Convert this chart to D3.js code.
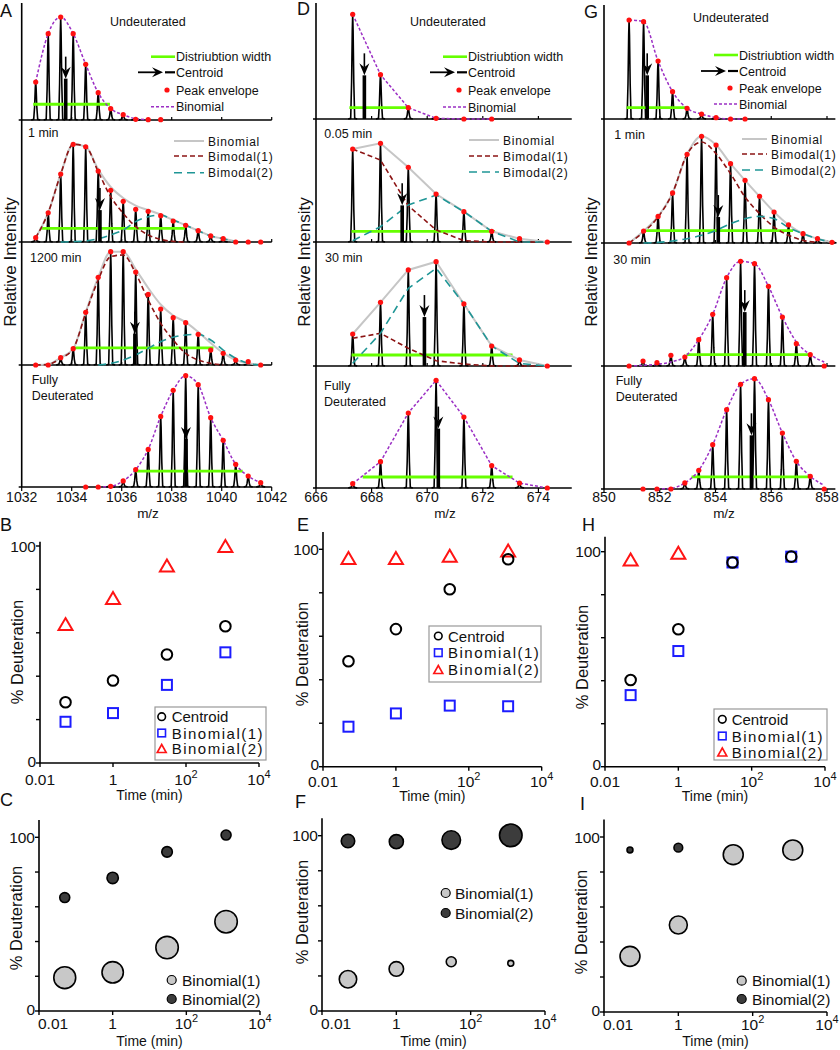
<!DOCTYPE html>
<html><head><meta charset="utf-8">
<script src="https://cdn.jsdelivr.net/npm/d3@7"></script>
<style>
body{margin:0;background:#fff;}
svg{display:block;font-family:"Liberation Sans",Arial,sans-serif;}
</style></head><body>
<svg id="c" width="840" height="1050"></svg>
<script>
// ===================== DATA =====================
// ---- spectra: tick labels ----
const mzTicksA = [1032,1034,1036,1038,1040,1042];
const mzTicksD = [666,668,670,672,674];
const mzTicksG = [850,852,854,856,858];

// ---- spectra texts ----
const labelsA = ["Undeuterated","1 min","1200 min","Fully|Deuterated"];
const labelsD = ["Undeuterated","0.05 min","30 min","Fully|Deuterated"];
const labelsG = ["Undeuterated","1 min","30 min","Fully|Deuterated"];
const legendTopText = ["Distriubtion width","Centroid","Peak envelope","Binomial"];
const legendMidText = ["Binomial","Bimodal(1)","Bimodal(2)"];

// ---- column A (m/z, relative intensity %) ----
const A1_start = 1032.56, A1_step = 0.5;
const A1_peaks = [34.5,78.5,93.6,78.5,50.6,24.8,10.3,4.8,0.6,0.3,0.3];
const A1_binomial = [34.5,78.5,93.6,78.5,50.6,24.8,10.3,4.8,1.2,0.2];
const A1_width = [1032.46,1035.53,14.3];
const A1_centroid = [1033.76,57.6];

const A2_start = 1032.56, A2_step = 0.5;
const A2_peaks = [3.9,26.6,61.8,88.8,86.6,64.5,47,37,29.7,27.9,23.9,19.1,15.2,10.3,5.5,3,0,0,0];
const A2_binomial = [3.9,26.6,61.8,88.8,86.6,66,50,40,33,29,25,20,15.2,10.3,5.5,3,0.5];
const A2_bimodal1 = [3.9,26.7,61.8,88.8,86.7,63.9,41.2,26.1,13.9,6.4,2.4,0.6,0];
const A2_bimodal2 = [null,null,0,0.3,0.9,3,6.4,10.9,18.5,23,24.5,20,15.2,10.3,5.5,3,0];
const A2_width = [1032.73,1038.53,12.4];
const A2_centroid = [1035.13,49];

const A3_start = 1032.56, A3_step = 0.5;
const A3_peaks = [0,0,6.7,14.8,47.9,79.7,103,103,84.5,64.2,50.9,43,38.5,27.9,13.6,10.6,4.5,3,0];
const A3_binomial = [0,0.6,6.7,14.8,47.9,79.7,103,103,87,70,55,45,39,30,20,11,4.5,1.5,0];
const A3_bimodal1 = [0,0.6,6.1,14.8,47,77.3,98.5,100,83.3,59.1,37.9,22.7,10.6,4.5,1.5,0];
const A3_bimodal2 = [null,null,null,null,null,0,1.5,4.5,9.1,15.2,21.2,25.2,27.3,27.9,22.7,13.6,6.1,1.5,0];
const A3_width = [1034.07,1039.67,15.5];
const A3_centroid = [1036.53,48.5];

const A4_start = 1034.56, A4_step = 0.5;
const A4_peaks = [0,0,0.6,5.5,15.8,34.2,64.2,87.9,101.2,93,63,42.4,20.6,10,3.9];
const A4_binomial = [null,0,0.6,5.5,15.8,34.2,64.2,87.9,101.2,93,63,42.4,20.6,10,3.9];
const A4_width = [1036.57,1040.84,14.5];
const A4_centroid = [1038.57,63.7];

// ---- column D ----
const D1_start = 667.32, D1_step = 1;
const D1_peaks = [95.2,40.3,10.3,0.6,0,0];
const D1_binomial = [95.2,40.3,10.3,0.6,0,0];
const D1_width = [667.2,669.31,10.3];
const D1_centroid = [667.74,59.7];

const D2_start = 667.32, D2_step = 1;
const D2_peaks = [84.5,89.7,67.9,43.6,27.6,9.7,3,0];
const D2_binomial = [84.5,89.7,67.9,43.6,27.6,9.7,3,0];
const D2_bimodal1 = [84.5,74.5,33,11,1.2,0,0,0];
const D2_bimodal2 = [1.2,13.9,33.6,42.7,27.6,9.7,0,0];
const D2_width = [667.28,672.44,9.7];
const D2_centroid = [669.1,53.3];

const D3_start = 667.32, D3_step = 1;
const D3_peaks = [29.1,57.9,87.3,94.8,56.4,18.2,5.5,0];
const D3_binomial = [29.1,57.9,87.3,94.8,56.4,18.2,5.5,0];
const D3_bimodal1 = [25.2,29.7,16.1,4.8,1.8,0,0,0];
const D3_bimodal2 = [2.4,29.7,70.6,88.8,56.4,18.2,2.4,0];
const D3_width = [667.28,673.07,10];
const D3_centroid = [669.9,64.5];

const D4_start = 667.32, D4_step = 1;
const D4_peaks = [3.9,23.9,68.2,97.9,64.5,20.3,4.5,0];
const D4_binomial = [3.9,23.9,68.2,97.9,64.5,20.3,4.5,0];
const D4_width = [667.68,673.07,10];
const D4_centroid = [670.4,74];

// ---- column G ----
const G1_start = 850.9, G1_step = 0.52;
const G1_peaks = [90,88.5,52.7,24.8,9.7,4.5,1.2,0,0];
const G1_binomial = [90,88.5,52.7,24.8,9.7,4.5,1.2,0,0];
const G1_width = [850.81,853.0,10.3];
const G1_centroid = [851.55,59.7];

const G2_start = 850.9, G2_step = 0.52;
const G2_peaks = [0,10.9,24.2,45.5,80.6,97,89.1,72.1,57,42.4,28.2,16.5,8.5,3.9,0.6];
const G2_binomial = [0,10.9,24.2,45.5,80.6,97,89.1,72.1,57,42.4,28.2,16.5,8.5,3.9,0.6];
const G2_bimodal1 = [0,10,23.6,45.5,80.6,91.8,81.2,63,41.8,26.7,14.5,7,2.4,0.6];
const G2_bimodal2 = [null,0,0.6,1.8,3.9,7,11.5,17.6,22.1,24.2,22.1,14,8.5,3.9,0.6];
const G2_width = [851.47,856.78,11.2];
const G2_centroid = [854.1,43.6];

const G3_start = 850.9, G3_step = 0.5;
const G3_peaks = [0,4.5,3,9.7,8.2,23.9,47,80.3,95.2,93,72.4,44.5,20.3,10.3,0];
const G3_binomial = [0,0.6,1.5,3.6,8.5,24,47,80.3,95.2,93,72.4,44.5,22,10.3,3.6];
const G3_width = [852.96,857.32,10.3];
const G3_centroid = [855.05,69];

const G4_start = 851.4, G4_step = 0.5;
const G4_peaks = [0,0,0,5.5,17,40.3,72.1,95.2,100.3,81.2,50.9,25.2,11.5,0];
const G4_binomial = [null,0,0.6,5.5,17,40.3,72.1,95.2,100.3,81.2,50.9,25.2,11.5,3.3];
const G4_width = [853.14,857.38,11];
const G4_centroid = [855.29,68.8];

// ---- % deuteration vs time ----
const times = [0.05,1,30,1200];
const timeTicks = [0.01,1,100,10000];
const timeTickLabels = [["0.01",""],["1",""],["10","2"],["10","4"]];
const pctTicks = [0,20,40,60,80,100];
const pctTickLabels = ["0","","","","","100"];
const scatterLegend = ["Centroid","Binomial(1)","Binomial(2)"];
const bubbleLegend = ["Binomial(1)","Binomial(2)"];

const B_centroid = [28,38,50,63];
const B_binomial1 = [19,23,36,51];
const B_binomial2 = [64,76,91,100];

const E_centroid = [48.5,63.3,81.6,95.4];
const E_binomial1 = [18.4,24.5,28.1,27.8];
const E_binomial2 = [96,96,97,99.5];

const H_centroid = [40.3,63.9,95,97.7];
const H_binomial1 = [33.3,53.8,95,97.7];
const H_binomial2 = [96.4,99.5];

const C_binomial1 = [19.2,22.3,36.5,51.4];
const C_binomial2 = [65.3,76.6,91.6,101.3];
const C_pop1 = [82,78,86,86];
const C_pop2 = [17,22,19,17];

const F_binomial1 = [18.1,24,28.1,27.2];
const F_binomial2 = [97,96.6,97.5,100.2];
const F_pop1 = [52,36,17,6];
const F_pop2 = [31,34,59,87];

const I_binomial1 = [31.8,49.7,89.9,92.6];
const I_binomial2 = [92.6,93.9];
const I_pop1 = [68,55,68,68];
const I_pop2 = [6,13];

// ===================== DRAWING =====================
const svg = d3.select("#c");
const ST = {
  purple:{stroke:"#9b2fc4", w:1.5, dash:"3,2"},
  gray:{stroke:"#c6c6c6", w:2, dash:null},
  red:{stroke:"#8c1414", w:1.6, dash:"5,3"},
  teal:{stroke:"#1f9696", w:1.6, dash:"8,5"},
  green:"#66ff00"
};

function text(x,y,s,o={}){
  const t = svg.append("text").attr("x",x).attr("y",y)
    .attr("font-size",o.size||12).attr("fill",o.fill||"#111");
  if(o.anchor) t.attr("text-anchor",o.anchor);
  if(o.ls) t.attr("letter-spacing",o.ls);
  if(o.rot) t.attr("transform",`rotate(-90,${x},${y})`);
  t.text(s);
  return t;
}
function line(x1,y1,x2,y2,stroke,w,dash){
  const l = svg.append("line").attr("x1",x1).attr("y1",y1).attr("x2",x2).attr("y2",y2)
    .attr("stroke",stroke).attr("stroke-width",w);
  if(dash) l.attr("stroke-dasharray",dash);
  return l;
}
function styled(sel, st){
  sel.attr("fill","none").attr("stroke",st.stroke).attr("stroke-width",st.w);
  if(st.dash) sel.attr("stroke-dasharray",st.dash);
  return sel;
}
function arrowDown(xc, yTop, base){
  const tip = yTop + 22;
  line(xc, yTop, xc, tip-8, "#000", 1.6);
  svg.append("path").attr("d",`M${xc},${tip} L${xc-5},${tip-12} L${xc},${tip-8} L${xc+5},${tip-12} Z`).attr("fill","#000");
  line(xc, tip, xc, base, "#000", 3.6);
}

function sub(start, step, peaks, envs, width, cen){
  return {start, step, peaks, envs, width, cen};
}
const colA = {
  domain:[1032,1042], range:[21.7,271.7], xEnd:1042, top:3, bases:[120,242,365,487],
  ticks:mzTicksA, labels:labelsA, curve:d3.curveMonotoneX, mzX:148,
  undeutX:110, undeutY:25.5, timeX:[0,28,30,31.7], timeY:[0,136.5,262,384],
  legTopX:176, legTopY:[56.7,72.3,90,106.7], legMidX:208, legMidY:[141,156,172.7], legMidLen:30,
  relX:16, relY:262,
  subs:[
    sub(A1_start,A1_step,A1_peaks,[[A1_binomial,"purple"]],A1_width,A1_centroid),
    sub(A2_start,A2_step,A2_peaks,[[A2_binomial,"gray"],[A2_bimodal1,"red"],[A2_bimodal2,"teal"]],A2_width,A2_centroid),
    sub(A3_start,A3_step,A3_peaks,[[A3_binomial,"gray"],[A3_bimodal1,"red"],[A3_bimodal2,"teal"]],A3_width,A3_centroid),
    sub(A4_start,A4_step,A4_peaks,[[A4_binomial,"purple"]],A4_width,A4_centroid)
  ]
};
const colD = {
  domain:[666,674], range:[316,538.4], xEnd:675.2, top:3, bases:[119,242,366,488],
  ticks:mzTicksD, labels:labelsD, curve:d3.curveLinear, mzX:445,
  undeutX:410, undeutY:26, timeX:[0,324.3,325,324], timeY:[0,138,262,390],
  legTopX:468, legTopY:[56.7,72.3,90,107], legMidX:503, legMidY:[140,156,172], legMidLen:30,
  relX:310, relY:262,
  subs:[
    sub(D1_start,D1_step,D1_peaks,[[D1_binomial,"purple"]],D1_width,D1_centroid),
    sub(D2_start,D2_step,D2_peaks,[[D2_binomial,"gray"],[D2_bimodal1,"red"],[D2_bimodal2,"teal"]],D2_width,D2_centroid),
    sub(D3_start,D3_step,D3_peaks,[[D3_binomial,"gray"],[D3_bimodal1,"red"],[D3_bimodal2,"teal"]],D3_width,D3_centroid),
    sub(D4_start,D4_step,D4_peaks,[[D4_binomial,"purple"]],D4_width,D4_centroid)
  ]
};
const colG = {
  domain:[850,858], range:[604,827], xEnd:858.3, top:5, bases:[119,243,366,489],
  ticks:mzTicksG, labels:labelsG, curve:d3.curveMonotoneX, mzX:724,
  undeutX:693, undeutY:22, timeX:[0,614.3,613.3,615.7], timeY:[0,139,264,385],
  legTopX:739, legTopY:[55,71,88,104], legMidX:771, legMidY:[139,154,170], legMidLen:25,
  relX:597, relY:262,
  subs:[
    sub(G1_start,G1_step,G1_peaks,[[G1_binomial,"purple"]],G1_width,G1_centroid),
    sub(G2_start,G2_step,G2_peaks,[[G2_binomial,"gray"],[G2_bimodal1,"red"],[G2_bimodal2,"teal"]],G2_width,G2_centroid),
    sub(G3_start,G3_step,G3_peaks,[[G3_binomial,"purple"]],G3_width,G3_centroid),
    sub(G4_start,G4_step,G4_peaks,[[G4_binomial,"purple"]],G4_width,G4_centroid)
  ]
};

function drawSpecColumn(col){
  const xs = d3.scaleLinear().domain(col.domain).range(col.range);
  const ax = xs(col.domain[0]);
  line(ax, col.top, ax, col.bases[3], "#000", 1.6);
  col.subs.forEach((sp,k)=>{
    const base = col.bases[k];
    const ys = d3.scaleLinear().domain([0,100]).range([base, base-110]);
    line(ax-3, base, xs(col.xEnd), base, "#000", 1.6);
    col.ticks.forEach(t=>{ if(t>col.domain[0]) line(xs(t), base, xs(t), base+(k===3?4:-3), "#000", 1.2); });
    const mz = i => sp.start + i*sp.step;
    // peaks
    sp.peaks.forEach((v,i)=>{
      if(v < 0.4) return;
      const x = xs(mz(i)), yt = ys(v);
      const pts = [[x-4.5,base],[x-2,base-0.6],[x-1.1,ys(v*0.35)],[x-0.4,ys(v*0.85)],[x,yt],
                   [x+0.4,ys(v*0.85)],[x+1.1,ys(v*0.35)],[x+2,base-0.6],[x+4.5,base]];
      svg.append("path").attr("d",d3.line()(pts)).attr("fill","none").attr("stroke","#000").attr("stroke-width",1.6);
    });
    // distribution width
    line(xs(sp.width[0]), ys(sp.width[2]), xs(sp.width[1]), ys(sp.width[2]), ST.green, 2.8);
    // envelopes
    sp.envs.forEach(([vals, sty])=>{
      const gen = d3.line().defined(d=>d[1]!=null).curve(col.curve)
        .x(d=>xs(mz(d[0]))).y(d=>ys(d[1]));
      styled(svg.append("path").attr("d",gen(vals.map((v,i)=>[i,v]))), ST[sty]);
    });
    // centroid
    arrowDown(xs(sp.cen[0]), ys(sp.cen[1]), base);
    // peak envelope dots
    sp.peaks.forEach((v,i)=>{
      svg.append("circle").attr("cx",xs(mz(i))).attr("cy",ys(v)).attr("r",2.6).attr("fill","#ff1010");
    });
    // labels
    const lab = col.labels[k];
    if(k===0) text(col.undeutX, col.undeutY, lab, {size:12.5});
    else if(lab.includes("|")){
      const parts = lab.split("|");
      text(col.timeX[k], col.timeY[k], parts[0], {size:12.5});
      text(col.timeX[k], col.timeY[k]+15.5, parts[1], {size:12.5});
    } else text(col.timeX[k], col.timeY[k], lab, {size:12.5});
  });
  // bottom tick labels
  col.ticks.forEach(t=> text(xs(t), 502, String(t), {size:14, anchor:"middle"}));
  line(ax, col.bases[3], ax, col.bases[3]+4, "#000", 1.2);
  text(col.mzX, 518, "m/z", {size:13.5, anchor:"middle"});
  // y label
  text(col.relX, col.relY, "Relative Intensity", {size:17, anchor:"middle", rot:true});
  // top legend
  const tx = col.legTopX, ly = col.legTopY;
  line(tx-25, ly[0], tx-1, ly[0], ST.green, 2.6);
  text(tx, ly[0]+4.5, legendTopText[0], {size:12.5});
  line(tx-38, ly[1], tx-20, ly[1], "#000", 1.8);
  svg.append("path").attr("d",`M${tx-13},${ly[1]} L${tx-24},${ly[1]-5} L${tx-20},${ly[1]} L${tx-24},${ly[1]+5} Z`).attr("fill","#000");
  line(tx-11, ly[1], tx-1, ly[1], "#000", 2.2);
  text(tx, ly[1]+4.5, legendTopText[1], {size:12.5});
  svg.append("circle").attr("cx",tx-9).attr("cy",ly[2]).attr("r",2.6).attr("fill","#ff1010");
  text(tx, ly[2]+4.5, legendTopText[2], {size:12.5});
  styled(svg.append("path").attr("d",`M${tx-25},${ly[3]} L${tx-1},${ly[3]}`), ST.purple);
  text(tx, ly[3]+4.5, legendTopText[3], {size:12.5});
  // mid legend
  const mx = col.legMidX, my = col.legMidY, L = col.legMidLen;
  ["gray","red","teal"].forEach((s,i)=>{
    styled(svg.append("path").attr("d",`M${mx-L-4},${my[i]} L${mx-4},${my[i]}`), ST[s]);
    text(mx, my[i]+4.5, legendMidText[i], {size:12, ls:0.75});
  });
}
[colA, colD, colG].forEach(drawSpecColumn);

// ---------- panel letters ----------
const panelLetters = [["A",0,17],["D",297,15],["G",584,18],["B",0,531],["E",297,531],["H",582,531],["C",0,806],["F",295,808],["I",580,810]];
panelLetters.forEach(([s,x,y])=>text(x,y,s,{size:18}));

// ---------- time axes ----------
function timeAxes(p){
  const xs = d3.scaleLog().domain([0.01,1e4]).range(p.xr);
  const ys = d3.scaleLinear().domain([0,100]).range(p.yr);
  line(xs(0.01), ys(0), xs(0.01), ys(p.yMax), "#000", 1.6);
  line(xs(0.01)-0.8, ys(0), xs(1e4), ys(0), "#000", 1.6);
  pctTicks.forEach((t,i)=>{
    line(xs(0.01)-4, ys(t), xs(0.01), ys(t), "#000", 1.4);
    if(pctTickLabels[i]) text(xs(0.01)-4, ys(t)+(t===0?3.5:5.5), pctTickLabels[i], {size:15.5, anchor:"end"});
  });
  timeTicks.forEach((t,i)=>{
    line(xs(t), ys(0), xs(t), ys(0)+4, "#000", 1.4);
    const lb = timeTickLabels[i];
    const first = (i===0 && p.firstStart);
    const tt = svg.append("text").attr("x",first ? xs(t)-1 : xs(t)).attr("y",ys(0)+p.tickDy).attr("font-size",15.5)
      .attr("text-anchor",first ? "start" : "middle").attr("fill","#111");
    tt.append("tspan").text(lb[0]);
    if(lb[1]) tt.append("tspan").attr("dy",-7).attr("font-size",11).text(lb[1]);
  });
  text((p.xr[0]+p.xr[1])/2, p.timeY, "Time (min)", {size:14, anchor:"middle"});
  text(p.labX, p.labY, "% Deuteration", {size:16.5, anchor:"middle", rot:true});
  return {xs, ys};
}

const scatterPanels = [
  {xr:[40,259], yr:[763,546], yMax:102, tickDy:21.5, timeY:800, labX:23, labY:652,
   c:B_centroid, s:B_binomial1, t:B_binomial2, box:[155,707,111,53], leg:[161.7,171.7,[716.7,733,748.5]]},
  {xr:[323,541.7], yr:[766.7,549.3], yMax:108, tickDy:20, timeY:801, labX:308, labY:654,
   c:E_centroid, s:E_binomial1, t:E_binomial2, box:[429,626,112,56], leg:[438.3,448,[636,652.7,669.5]]},
  {xr:[605,825], yr:[766.7,551.7], yMax:107, tickDy:20, timeY:801, labX:588, labY:657,
   c:H_centroid, s:H_binomial1, t:H_binomial2, box:[714,709,113,51], leg:[722.3,731.7,[719.3,736,752]]}
];
function tri(cx,cy,w,h){ return `M${cx},${cy-h/2} L${cx+w/2},${cy+h/2} L${cx-w/2},${cy+h/2} Z`; }
scatterPanels.forEach(p=>{
  const {xs, ys} = timeAxes(p);
  p.s.forEach((v,i)=> svg.append("rect").attr("x",xs(times[i])-5).attr("y",ys(v)-5).attr("width",10).attr("height",10)
     .attr("fill","none").attr("stroke","#1c1cff").attr("stroke-width",2));
  p.t.forEach((v,i)=> svg.append("path").attr("d",tri(xs(times[i]),ys(v),14,12))
     .attr("fill","none").attr("stroke","#ff1414").attr("stroke-width",2));
  p.c.forEach((v,i)=> svg.append("circle").attr("cx",xs(times[i])).attr("cy",ys(v)).attr("r",5.3)
     .attr("fill","none").attr("stroke","#000").attr("stroke-width",2));
  const [bx,by,bw,bh] = p.box;
  svg.append("rect").attr("x",bx).attr("y",by).attr("width",bw).attr("height",bh)
     .attr("fill","#fff").attr("stroke","#999").attr("stroke-width",1.2);
  const [mxp, txp, rows] = p.leg;
  svg.append("circle").attr("cx",mxp).attr("cy",rows[0]).attr("r",3.8).attr("fill","none").attr("stroke","#000").attr("stroke-width",1.6);
  svg.append("rect").attr("x",mxp-3.8).attr("y",rows[1]-3.8).attr("width",7.6).attr("height",7.6).attr("fill","none").attr("stroke","#1c1cff").attr("stroke-width",1.6);
  svg.append("path").attr("d",tri(mxp,rows[2],9,8)).attr("fill","none").attr("stroke","#ff1414").attr("stroke-width",1.6);
  text(txp, rows[0]+5.5, scatterLegend[0], {size:15});
  text(txp, rows[1]+5.5, scatterLegend[1], {size:15, ls:1.5});
  text(txp, rows[2]+5.5, scatterLegend[2], {size:15, ls:1.5});
});

// ---------- bubbles ----------
const rScale = d3.scaleSqrt().domain([0,100]).range([0,12.1]);
const bubblePanels = [
  {xr:[39,260], yr:[1011,837.3], yMax:110, tickDy:18, timeY:1046, labX:22, labY:918, firstStart:true,
   b1:C_binomial1, b2:C_binomial2, p1:C_pop1, p2:C_pop2, leg:[171.7,182,[980,999]]},
  {xr:[322,545], yr:[1011,835.7], yMax:110, tickDy:18, timeY:1046, labX:308, labY:912, firstStart:true,
   b1:F_binomial1, b2:F_binomial2, p1:F_pop1, p2:F_pop2, leg:[445.7,455,[893,913]]},
  {xr:[604,827], yr:[1012,837], yMax:110, tickDy:18, timeY:1046, labX:587, labY:922, firstStart:true,
   b1:I_binomial1, b2:I_binomial2, p1:I_pop1, p2:I_pop2, leg:[741.7,752,[980.7,999]]}
];
bubblePanels.forEach(p=>{
  const {xs, ys} = timeAxes(p);
  p.b1.forEach((v,i)=> svg.append("circle").attr("cx",xs(times[i])).attr("cy",ys(v)).attr("r",rScale(p.p1[i]))
     .attr("fill","#c8c8c8").attr("stroke","#000").attr("stroke-width",1.6));
  p.b2.forEach((v,i)=> svg.append("circle").attr("cx",xs(times[i])).attr("cy",ys(v)).attr("r",rScale(p.p2[i]))
     .attr("fill","#3c3c3c").attr("stroke","#000").attr("stroke-width",1.6));
  const [mxp, txp, rows] = p.leg;
  svg.append("circle").attr("cx",mxp).attr("cy",rows[0]).attr("r",4.5).attr("fill","#c8c8c8").attr("stroke","#000").attr("stroke-width",1.2);
  svg.append("circle").attr("cx",mxp).attr("cy",rows[1]).attr("r",4.5).attr("fill","#3c3c3c").attr("stroke","#000").attr("stroke-width",1.2);
  text(txp, rows[0]+5.5, bubbleLegend[0], {size:15.5});
  text(txp, rows[1]+5.5, bubbleLegend[1], {size:15.5});
});
</script>
</body></html>
